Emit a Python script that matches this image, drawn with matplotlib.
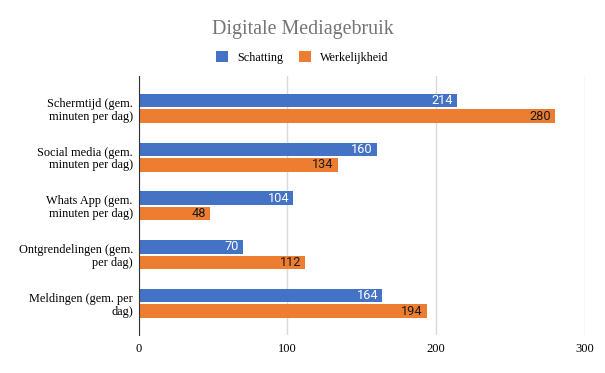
import matplotlib.pyplot as plt
import numpy as np

categories = ['Schermtijd (gem.\nminuten per dag)', 'Social media (gem.\nminuten per dag)',
              'Whats App (gem.\nminuten per dag)', 'Ontgrendelingen (gem.\nper dag)',
              'Meldingen (gem. per\ndag)']
schatting = [214, 160, 104, 70, 164]
werkelijkheid = [280, 134, 48, 112, 194]
xticks = [0, 100, 200, 300]

blue = '#4472C4'
orange = '#ED7D31'
serif = 'Liberation Serif'

fig = plt.figure(figsize=(6.05, 3.73), dpi=100)
ax = fig.add_axes([0.2293, 0.1019, 0.737, 0.6944])

y = np.arange(len(categories))
h = 0.277
gap = 0.04
b1 = ax.barh(y - h / 2 - gap / 2, schatting, height=h, color=blue, zorder=3)
b2 = ax.barh(y + h / 2 + gap / 2, werkelijkheid, height=h, color=orange, zorder=3)

for bar, v in zip(b1, schatting):
    ax.text(v - 2.7, bar.get_y() + bar.get_height() / 2, str(v), ha='right', va='center',
            color='white', fontsize=9.2, family='Roboto', zorder=4)
for bar, v in zip(b2, werkelijkheid):
    ax.text(v - 2.7, bar.get_y() + bar.get_height() / 2, str(v), ha='right', va='center',
            color='#1a1a1a', fontsize=9.2, family='Roboto', zorder=4)

ax.set_xlim(0, 300)
ax.set_ylim(4.65, -0.663)
ax.set_xticks(xticks)
ax.set_xticklabels([str(t) for t in xticks], family=serif, fontsize=9)
ax.set_yticks(y)
ax.set_yticklabels(categories, family=serif, fontsize=8.8, linespacing=1.1)
ax.tick_params(axis='y', length=0, pad=4.3)
ax.tick_params(axis='x', length=0, pad=6)
ax.grid(axis='x', color='#d9d9d9', linewidth=1, zorder=0)
for s in ['top', 'right', 'bottom']:
    ax.spines[s].set_visible(False)
ax.spines['left'].set_color('#333333')
ax.spines['left'].set_zorder(5)

fig.text(0.5, 0.910, 'Digitale Mediagebruik', ha='center', va='baseline',
         family=serif, fontsize=14.4, color='#757575')
leg = fig.legend([b1, b2], ['Schatting', 'Werkelijkheid'], loc='center',
                 bbox_to_anchor=(0.5, 0.847), ncol=2, frameon=False,
                 prop={'family': serif, 'size': 8.7}, handlelength=1.0, handleheight=1.1,
                 columnspacing=1.3, handletextpad=0.75, borderpad=0)

fig.savefig('out.png', dpi=100)
